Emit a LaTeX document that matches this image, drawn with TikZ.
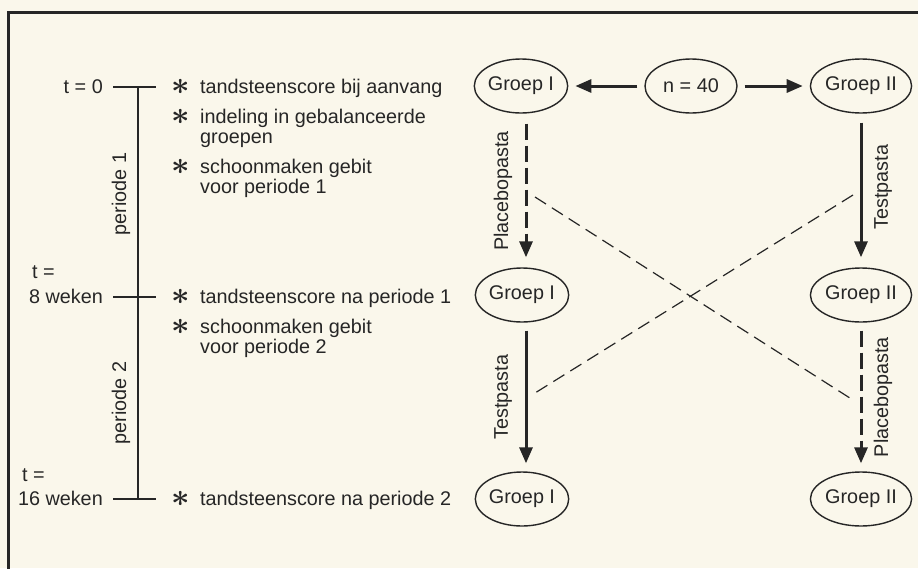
\documentclass[tikz,border=0pt]{standalone}
\usepackage{fontspec}
\setmainfont{Liberation Sans}
\usetikzlibrary{shapes.geometric,arrows.meta}
\definecolor{bg}{HTML}{FAF7EB}
\definecolor{ink}{HTML}{262626}
\newcommand{\bigast}{\scalebox{1.55}{\boldmath$\ast$}}
\begin{document}
\begin{tikzpicture}[x=1pt,y=-1pt,
  font=\fontsize{19.8}{20}\selectfont,
  grp/.style={draw=ink, ellipse, line width=1.4pt, minimum width=92pt, minimum height=54pt, inner sep=0pt, text=ink},
  item/.style={anchor=base west, inner sep=0pt, text=ink},
  lab/.style={inner sep=0pt, text=ink},
  bul/.style={inner sep=0pt, text=ink},
  rlab/.style={inner sep=0pt, text=ink, rotate=90},
  arr/.style={draw=ink, line width=3pt, -{Triangle[length=16pt,width=13pt]}},
  darr/.style={draw=ink, line width=3pt, dash pattern=on 16pt off 6pt, -{Triangle[length=16pt,width=13pt]}},
  cross/.style={draw=ink, line width=1.2pt, dash pattern=on 13pt off 7pt},
  tline/.style={draw=ink, line width=1.3pt}
]
\fill[bg] (0,0) rectangle (918,568);
\useasboundingbox (0,0) rectangle (918,568);
% frame
\draw[ink, line width=3pt] (8.5,620) -- (8.5,12) -- (960,12);

% time axis
\coordinate (t0a) at (113,87);  \coordinate (t0b) at (156,87);
\coordinate (t1a) at (113,297); \coordinate (t1b) at (156,297);
\coordinate (t2a) at (113,499); \coordinate (t2b) at (156,499);
\coordinate (v0) at (138,87); \coordinate (v2) at (138,499);
\draw[tline] (t0a) -- (t0b);
\draw[tline] (t1a) -- (t1b);
\draw[tline] (t2a) -- (t2b);
\draw[tline] (v0) -- (v2);

\node[lab, anchor=base east] (l0) at (103,93) {t = 0};
\node[lab, anchor=base west] (l1a) at (32,278) {t =};
\node[lab, anchor=base east] (l1b) at (103,303) {8 weken};
\node[lab, anchor=base west] (l2a) at (22,481) {t =};
\node[lab, anchor=base east] (l2b) at (103,505) {16 weken};
\node[rlab] (p1) at (121,194) {periode 1};
\node[rlab] (p2) at (121,403) {periode 2};

% items
\node[bul] (b1) at (181,87) {\bigast};
\node[item] (i1) at (200,93) {tandsteenscore bij aanvang};
\node[bul] (b2) at (181,117) {\bigast};
\node[item] (i2) at (200,123) {indeling in gebalanceerde};
\node[item] (i2b) at (200,143) {groepen};
\node[bul] (b3) at (181,167) {\bigast};
\node[item] (i3) at (200,173) {schoonmaken gebit};
\node[item] (i3b) at (200,193) {voor periode 1};
\node[bul] (b4) at (181,297) {\bigast};
\node[item] (i4) at (200,303) {tandsteenscore na periode 1};
\node[bul] (b5) at (181,327) {\bigast};
\node[item] (i5) at (200,333) {schoonmaken gebit};
\node[item] (i5b) at (200,353) {voor periode 2};
\node[bul] (b6) at (181,499) {\bigast};
\node[item] (i6) at (200,505) {tandsteenscore na periode 2};

% groups
\node[grp] (g1a) at (521,86) {Groep I};
\node[grp] (n40) at (691,86) {n = 40};
\node[grp] (g2a) at (861,86) {Groep II};
\node[grp] (g1b) at (522,295) {Groep I};
\node[grp] (g2b) at (861,295) {Groep II};
\node[grp] (g1c) at (522,499) {Groep I};
\node[grp] (g2c) at (861,499) {Groep II};

\draw[arr, shorten <=7pt, shorten >=7pt] (n40) -- (g1a);
\draw[arr, shorten <=7pt, shorten >=7pt] (n40) -- (g2a);
\draw[darr, shorten <=10pt, shorten >=10pt] ([xshift=5pt]g1a.south) -- ([xshift=4pt]g1b.north);
\draw[arr, shorten <=9pt, shorten >=10pt] (g2a) -- (g2b);
\draw[arr, shorten <=8pt, shorten >=8pt] ([xshift=4pt]g1b.south) -- ([xshift=4pt]g1c.north);
\draw[darr, shorten <=8pt, shorten >=8pt] (g2b) -- (g2c);

\node[rlab] (pl1) at (503,191) {Placebopasta};
\node[rlab] (te1) at (883,187) {Testpasta};
\node[rlab] (te2) at (503,397) {Testpasta};
\node[rlab] (pl2) at (883,397) {Placebopasta};

% crossover lines
\coordinate (xa1) at (535,197); \coordinate (xa2) at (853,400);
\coordinate (xb1) at (853,195); \coordinate (xb2) at (535,393);
\draw[cross] (xa1) -- (xa2);
\draw[cross] (xb1) -- (xb2);
\end{tikzpicture}
\end{document}
